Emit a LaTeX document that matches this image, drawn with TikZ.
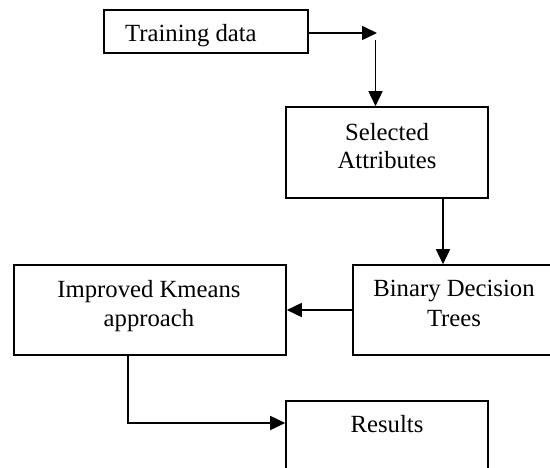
\documentclass[tikz,border=0pt]{standalone}
\usepackage{fontspec}
\setmainfont{Liberation Serif}
\usetikzlibrary{arrows.meta}

\tikzset{
  box/.style={draw, line width=1.6pt, rectangle, inner sep=0pt, fill=white},
  lbl/.style={inner sep=0pt, anchor=base, font=\fontsize{24.7}{29}\selectfont},
  flow/.style={line width=1.6pt, -{Triangle[length=15pt,width=14pt]}},
  link/.style={line width=1.6pt}
}

\begin{document}
\begin{tikzpicture}[x=1pt, y=-1pt]
  \useasboundingbox (0,0) rectangle (550,468);
  \clip (0,0) rectangle (550,468);

  % boxes (one unit = one pixel, y grows downwards)
  \node[box, minimum width=204pt, minimum height=43pt] (train) at (206,31.5) {};
  \node[box, minimum width=202pt, minimum height=91pt] (sel)   at (387,152.5) {};
  \node[box, minimum width=203pt, minimum height=90pt] (bdt)   at (454.5,310) {};
  \node[box, minimum width=272pt, minimum height=90pt] (imp)   at (150,310) {};
  \node[box, minimum width=202pt, minimum height=90pt] (res)   at (387,446) {};

  % texts
  \node[lbl, anchor=base west] (ttrain) at (125,42) {Training data};
  \node[lbl] (tsel1) at (387,141) {Selected};
  \node[lbl] (tsel2) at (387,169) {Attributes};
  \node[lbl] (tbdt1) at (454,297) {Binary Decision};
  \node[lbl] (tbdt2) at (454,327) {Trees};
  \node[lbl] (timp1) at (149,298) {Improved Kmeans};
  \node[lbl] (timp2) at (149,327) {approach};
  \node[lbl] (tres)  at (387,433) {Results};

  % connectors
  \coordinate (t1) at (377,33);
  \coordinate (t2) at (375.5,40);
  \draw[flow] (train.east |- t1) -- (t1);
  \draw[flow] (t2) -- (t2 |- sel.north);

  \coordinate (s1) at (443,0);
  \draw[flow] (s1 |- sel.south) -- (s1 |- bdt.north);

  \draw[flow] (bdt.west) -- (imp.east);

  \coordinate (k1) at (128,423);
  \draw[flow] (k1 |- imp.south) -- (k1) -- (k1 -| res.west);
\end{tikzpicture}
\end{document}
